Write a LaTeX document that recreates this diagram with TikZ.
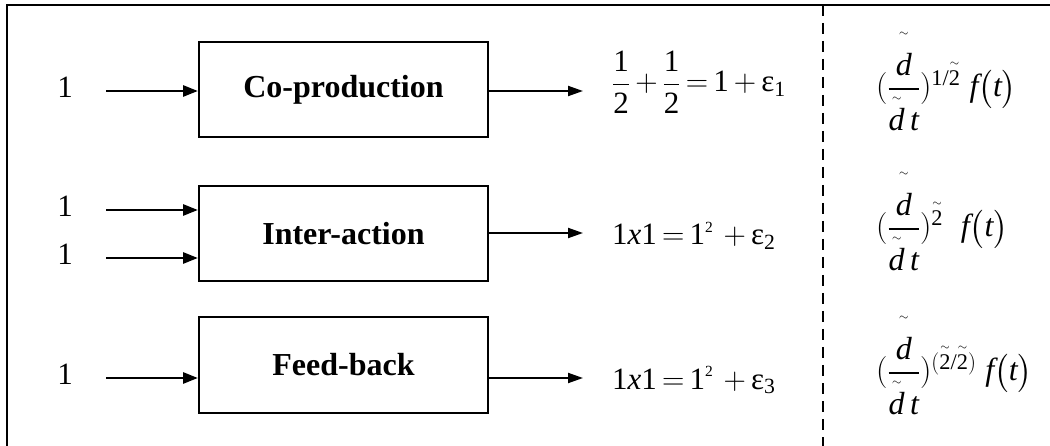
\RequirePackage{fix-cm}
\documentclass[tikz,border=0pt]{standalone}
\usepackage{amsmath,amssymb}
\usepackage{fontspec}
\setmainfont{Liberation Serif}
\usepackage{tikz}
\usetikzlibrary{arrows}
\usetikzlibrary{arrows.meta}

\newcommand{\iv}[1]{\text{\itshape #1}}
\newcommand{\upn}[1]{\text{#1}}
\newcommand{\tld}[2][0pt]{\overset{\raisebox{#1}{\fontsize{12}{12}\selectfont$\sim$}}{#2}}
\newcommand{\tightmath}{\medmuskip=3mu\relax\thickmuskip=3mu\relax}

\tikzset{
  blockbox/.style={draw, color=black, line width=2pt, rounded corners=0.0cm,
    minimum width=289pt, minimum height=95pt, inner sep=0pt,
    font=\fontsize{32}{38}\selectfont\bfseries},
  inlabel/.style={color=black, inner sep=0pt, font=\fontsize{31}{36}\selectfont},
  inarrow/.style={line width=2.7pt, -{Triangle[length=15pt,width=11pt]}},
  outarrow/.style={line width=2pt, -{Triangle[length=15pt,width=10pt]}},
  formula/.style={anchor=base west, inner sep=0pt, font=\fontsize{31}{36}\selectfont},
  derivform/.style={anchor=base west, inner sep=0pt, font=\fontsize{32}{38}\selectfont},
}

\begin{document}
\begin{tikzpicture}[x=1pt,y=-1pt]
\useasboundingbox (0,0) rectangle (1050,446);

\draw[black, line width=2.5pt] (7,446) -- (7,5) -- (1050,5);
\draw[black, line width=2pt, dash pattern=on 11pt off 7pt] (823,5) -- (823,446);

\draw (343.5,89.5) node[blockbox] (coprod) {Co-production};
\draw (343.5,233.5) node[blockbox] (inter) {Inter-action};
\draw (343.5,365) node[blockbox] (feed) {Feed-back};

\draw (65,87) node[inlabel] (oneA) {1};
\draw (65,206) node[inlabel] (oneB) {1};
\draw (65,254) node[inlabel] (oneC) {1};
\draw (65,374) node[inlabel] (oneD) {1};

\coordinate (inA) at (106,91);
\coordinate (inB) at (106,210);
\coordinate (inC) at (106,258);
\coordinate (inD) at (106,378);
\coordinate (outA) at (583,91);
\coordinate (outB) at (583,233);
\coordinate (outC) at (583,378);

\draw[black, inarrow] (inA) -- (inA -| coprod.west);
\draw[black, inarrow] (inB) -- (inB -| inter.west);
\draw[black, inarrow] (inC) -- (inC -| inter.west);
\draw[black, inarrow] (inD) -- (inD -| feed.west);
\draw[black, outarrow] (outA -| coprod.east) -- (outA);
\draw[black, outarrow] (outB -| inter.east) -- (outB);
\draw[black, outarrow] (outC -| feed.east) -- (outC);

\draw (612,92) node[formula] (resA)
  {$\tightmath\dfrac{\upn{1}}{\upn{2}}+\dfrac{\upn{1}}{\upn{2}}=\upn{1}+\upn{ε}_{\upn{1}}$};
\draw (612,245) node[formula] (resB)
  {$\tightmath\upn{1}\iv{x}\upn{1}=\upn{1}^{\scriptscriptstyle\upn{2}}\;+\upn{ε}_{\upn{2}}$};
\draw (612,389) node[formula] (resC)
  {$\tightmath\upn{1}\iv{x}\upn{1}=\upn{1}^{\scriptscriptstyle\upn{2}}\;+\upn{ε}_{\upn{3}}$};

\draw (876,97) node[derivform] (derA)
  {$(\dfrac{\tld[10pt]{\iv{d}}}{\tld[1pt]{\iv{d}}\,\iv{t}})^{\scriptstyle\upn{1/}\tld{\upn{2}}}\;\iv{f}\bigl(\iv{t}\bigr)$};
\draw (876,237) node[derivform] (derB)
  {$(\dfrac{\tld[10pt]{\iv{d}}}{\tld[1pt]{\iv{d}}\,\iv{t}})^{\scriptstyle\tld{\upn{2}}}\;\;\iv{f}\bigl(\iv{t}\bigr)$};
\draw (876,381) node[derivform] (derC)
  {$(\dfrac{\tld[10pt]{\iv{d}}}{\tld[1pt]{\iv{d}}\,\iv{t}})^{\scriptstyle(\tld{\upn{2}}\upn{/}\tld{\upn{2}})}\;\iv{f}\bigl(\iv{t}\bigr)$};
\end{tikzpicture}
\end{document}
